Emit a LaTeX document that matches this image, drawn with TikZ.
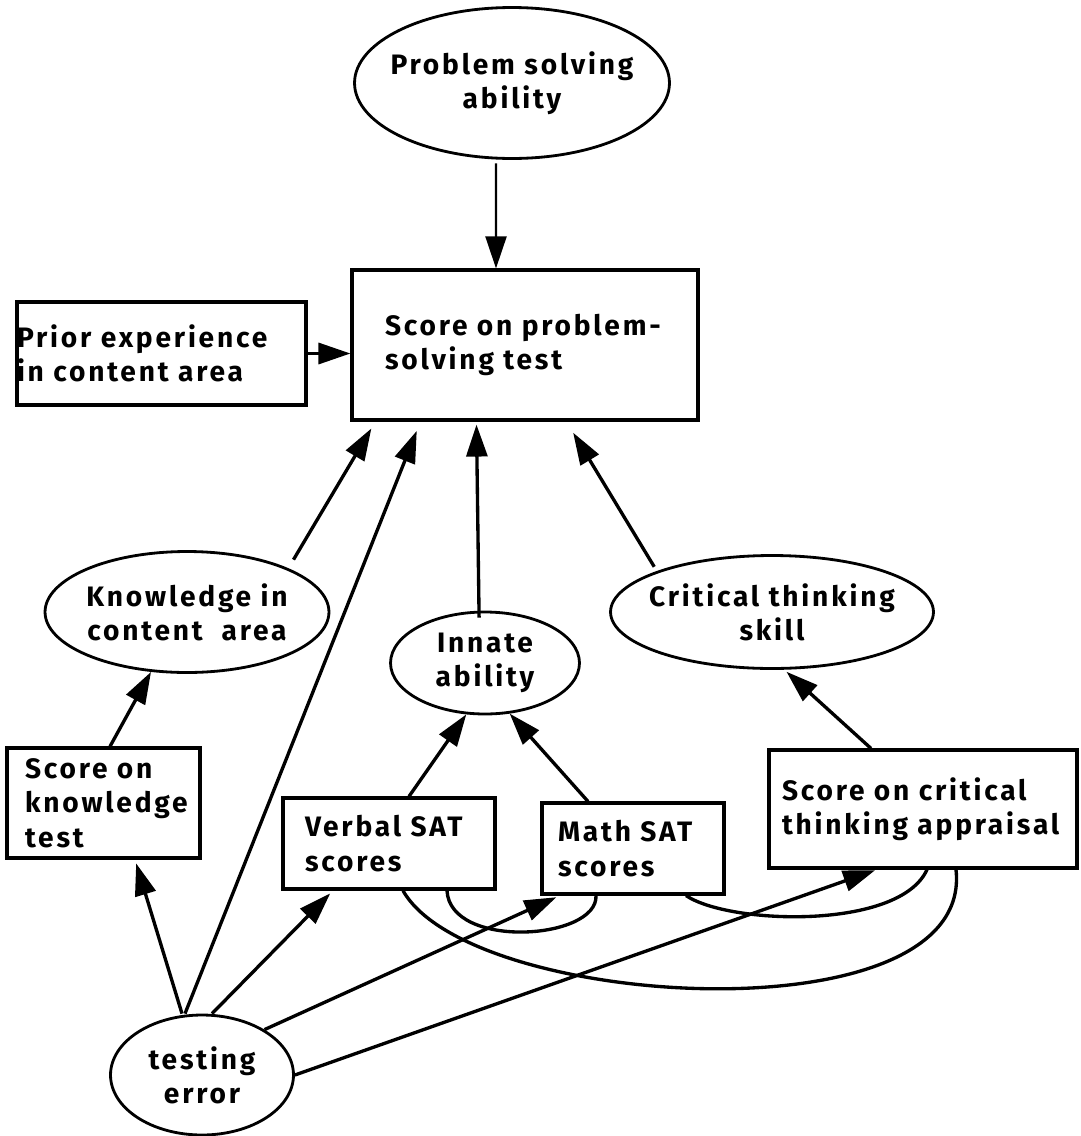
\documentclass[tikz,border=0pt]{standalone}
\usepackage{fontspec}
\setmainfont{Fira Sans}[LetterSpace=10]
\usetikzlibrary{arrows.meta,shapes.geometric}

\begin{document}
\begin{tikzpicture}[
  x=0.02cm, y=-0.02cm,
  every node/.style={font=\fontsize{16}{19.5}\selectfont\bfseries},
  latent/.style={ellipse, draw, line width=1.6pt, align=center,
    inner xsep=-0.8cm, inner ysep=-0.2cm},
  measure/.style={rectangle, draw, line width=1.8pt, align=left,
    inner ysep=0pt},
  effect/.style={-{Triangle[length=6.4mm,width=4.2mm]}, line width=1.9pt},
  assoc/.style={line width=1.9pt}
]
\useasboundingbox (0,0) rectangle (1080,1136);

% Latent traits drawn as ellipses.
\node[latent, minimum width=6.30cm, minimum height=3.02cm]
  (prob) at (512,83) {Problem solving\\ability};
\node[latent, minimum width=5.68cm, minimum height=2.42cm]
  (know) at (187,612) {Knowledge in\\content~ area};
\node[latent, minimum width=3.78cm, minimum height=2.04cm]
  (innate) at (485,663) {Innate\\ability};
\node[latent, minimum width=6.46cm, minimum height=2.26cm]
  (crit) at (772,612) {Critical thinking\\skill};
\node[latent, minimum width=3.66cm, minimum height=2.40cm]
  (error) at (202,1075) {testing\\error};

% Observed scores drawn as boxes.
\node[measure, minimum width=6.92cm, minimum height=3.00cm,
  inner xsep=0.66cm, text width=5.60cm]
  (score) at (525,345) {Score on problem-\\solving test};
\node[measure, minimum width=5.78cm, minimum height=2.06cm,
  inner xsep=0pt, text width=5.78cm]
  (prior) at (161.5,353.5) {Prior experience\\in content area};
\node[measure, minimum width=3.86cm, minimum height=2.20cm,
  inner xsep=0.36cm, text width=3.14cm]
  (knowtest) at (103.5,803) {Score on\\knowledge\\test};
\node[measure, minimum width=4.24cm, minimum height=1.82cm,
  inner xsep=0.44cm, text width=3.36cm]
  (verbal) at (389,843.5) {Verbal SAT\\scores};
\node[measure, minimum width=3.64cm, minimum height=1.82cm,
  inner xsep=0.32cm, text width=3.00cm]
  (math) at (633,848.5) {Math SAT\\scores};
\node[measure, minimum width=6.16cm, minimum height=2.36cm,
  inner xsep=0.26cm, text width=5.64cm]
  (critbox) at (923,809) {Score on critical\\thinking appraisal};

% Paths into the problem-solving score.
\draw[effect, line width=1.2pt, shorten <=2pt]
  ([xshift=-0.32cm]prob.south) -- ([xshift=-0.58cm]score.north);
\draw[effect] (prior.east) -- (prior.east -| score.west);
\draw[effect, shorten <=0.2cm, shorten >=0.16cm]
  (know.north east) -- ([xshift=0.5cm]score.south west);
\draw[effect, shorten >=0.2cm]
  ([xshift=-0.34cm]error.north) -- ([xshift=1.4cm]score.south west);
\draw[effect, shorten <=-0.14cm, shorten >=0.06cm]
  ([xshift=-0.12cm]innate.north) -- ([xshift=2.52cm]score.south west);
\draw[effect, shorten <=0.1cm, shorten >=0.26cm]
  (crit.north west) -- ([xshift=4.32cm]score.south west);

% Scores as indicators of the traits.
\draw[effect] ([xshift=0.13cm]knowtest.north) -- (know.239);
\draw[effect] ([xshift=0.4cm]verbal.north) -- (innate.250);
\draw[effect] ([xshift=-0.9cm]math.north) -- (innate.296);
\draw[effect, shorten >=0.06cm]
  ([xshift=-1.04cm]critbox.north) -- (crit.282);

% Testing error feeds every score.
\draw[effect, shorten >=0.08cm]
  ([xshift=-0.4cm]error.north) -- ([xshift=0.63cm]knowtest.south);
\draw[effect, shorten >=0.08cm]
  ([xshift=0.2cm]error.north) -- ([xshift=-1.12cm]verbal.south);
\draw[effect, shorten >=0.08cm]
  (error.36) -- ([xshift=-1.46cm]math.south);
\draw[effect, shorten >=0.04cm]
  (error.east) -- ([xshift=-0.92cm]critbox.south);

% Correlations between the scores.
\draw[assoc] ([xshift=0.28cm]verbal.south)
  .. controls (470,1010) and (975,1040) .. ([xshift=0.66cm]critbox.south);
\draw[assoc] ([xshift=1.16cm]verbal.south)
  .. controls (450,950) and (598,940) .. ([xshift=-0.74cm]math.south);
\draw[assoc] ([xshift=1.06cm]math.south)
  .. controls (730,925) and (900,930) .. ([xshift=0.08cm]critbox.south);

\end{tikzpicture}
\end{document}
